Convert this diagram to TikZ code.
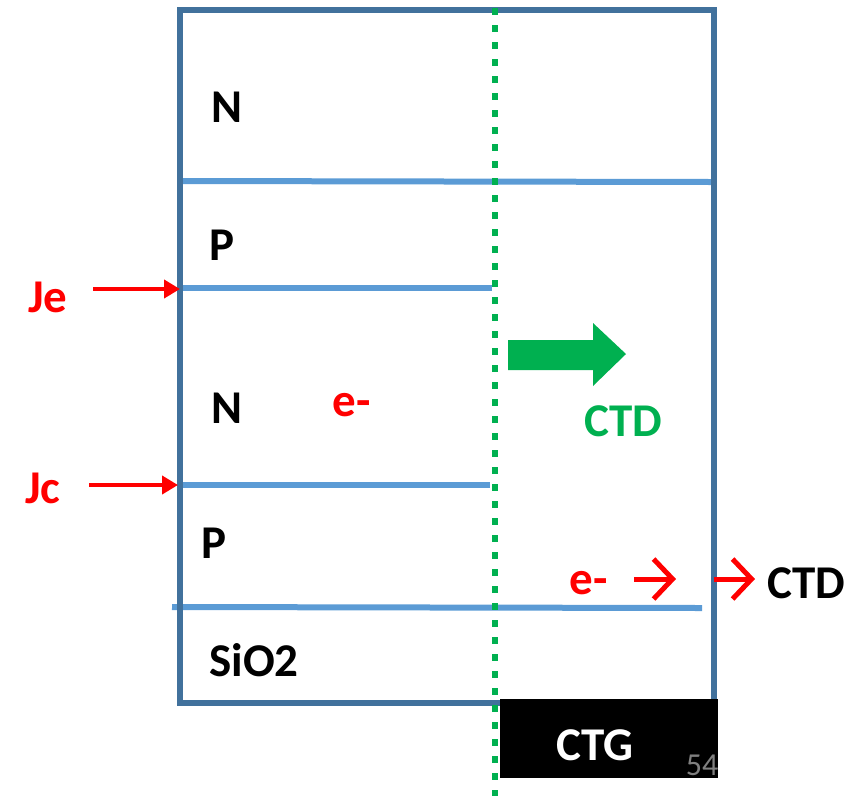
\documentclass[tikz,border=0pt]{standalone}
\usepackage{fontspec}
\setmainfont{Carlito}
\usetikzlibrary{arrows.meta}
\definecolor{frameblue}{HTML}{41719C}
\definecolor{layerblue}{HTML}{5B9BD5}
\definecolor{ctdgreen}{HTML}{00B050}
\definecolor{pagegray}{HTML}{7F7F7F}
\begin{document}
\begin{tikzpicture}[
        x=1pt, y=-1pt,
        every node/.style={
            inner sep=0pt,
            font=\fontsize{47}{47}\selectfont\bfseries
        },
        layer/.style={line width=6, layerblue},
        junction/.style={red, line width=4.5, -{Triangle[length=16,width=18]}},
        flow/.style={red, line width=5, -{Straight Barb[length=19,width=40,line width=5]}}
    ]
    \useasboundingbox (0,0) rectangle (864,796);

    % Capas del dispositivo
    \draw[layer] (183,181) -- (712,182);
    \draw[layer] (180,288) -- (492,288);
    \draw[layer] (180,485) -- (490,485);
    \draw[layer] (172,607) -- (702,608);

    % Contorno
    \draw[frameblue, line width=6] (180,10) rectangle (714,703);

    % Linea de corte
    \draw[ctdgreen, line width=6, dash pattern=on 7 off 10] (495,8) -- (495,796);

    % Compuerta
    \fill[black] (500,699) rectangle (718,778);
    \node[white] (ctg) at (595,745) {CTG};
    \node[pagegray, font=\fontsize{32}{32}\selectfont] (page) at (702,765) {54};

    % Etiquetas de las regiones
    \node (n1) at (227,107) {N};
    \node (p1) at (222,245) {P};
    \node (n2) at (227,408) {N};
    \node (p2) at (214,543) {P};
    \node (ox) at (254,660) {SiO2};
    \node[red] (e1) at (352,405) {e-};

    % Uniones
    \node[red] (je) at (48,297) {Je};
    \node[red] (jc) at (43,488) {Jc};
    \coordinate (je-start) at (93,289);
    \coordinate (je-end)   at (180,289);
    \coordinate (jc-start) at (89,485);
    \coordinate (jc-end)   at (178,485);
    \draw[junction] (je-start) -- (je-end);
    \draw[junction] (jc-start) -- (jc-end);

    % Flecha CTD
    \fill[ctdgreen] (508,340) -- (593,340) -- (593,323) -- (626,354)
        -- (593,386) -- (593,370) -- (508,370) -- cycle;
    \node[ctdgreen] (ctd1) at (623,421) {CTD};

    % Salida de electrones
    \node[red] (e2) at (589,583) {e-};
    \node (ctd2) at (806,583) {CTD};
    \coordinate (a1) at (634,579);
    \coordinate (b1) at (676,579);
    \coordinate (a2) at (714,579);
    \coordinate (b2) at (755,579);
    \draw[flow] (a1) -- (b1);
    \draw[flow] (a2) -- (b2);

\end{tikzpicture}
\end{document}
